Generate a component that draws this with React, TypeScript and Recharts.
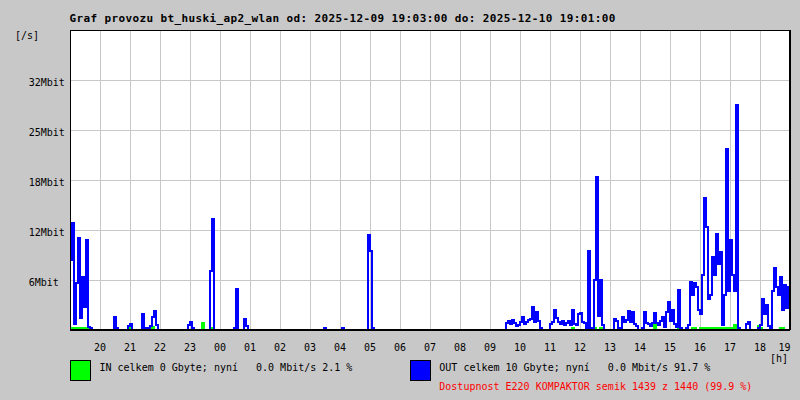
import React from 'react';
import { LineChart, Line, XAxis, YAxis, CartesianGrid, ReferenceLine } from 'recharts';

// Title and legend texts
const titleText = 'Graf provozu bt_huski_ap2_wlan od: 2025-12-09 19:03:00 do: 2025-12-10 19:01:00';
const inLegend = 'IN celkem 0 Gbyte; nyní   0.0 Mbit/s 2.1 %';
const outLegend = 'OUT celkem 10 Gbyte; nyní   0.0 Mbit/s 91.7 %';
const availText = 'Dostupnost E220 KOMPAKTOR semik 1439 z 1440 (99.9 %)';

// X axis: minutes since 19:00, one tick per hour
const hourTicks = [60, 120, 180, 240, 300, 360, 420, 480, 540, 600, 660, 720, 780, 840, 900, 960, 1020, 1080, 1140, 1200, 1260, 1320, 1380, 1440];
const hourLabels = ['20', '21', '22', '23', '00', '01', '02', '03', '04', '05', '06', '07', '08', '09', '10', '11', '12', '13', '14', '15', '16', '17', '18', '19'];

// Y axis (Mbit/s)
const yMax = 38.4;
const yTickValues = [6.4, 12.8, 19.2, 25.6, 32];
const yTickLabels = ['6Mbit', '12Mbit', '18Mbit', '25Mbit', '32Mbit'];

// Sample spacing in minutes
const sampleMinutes = 4;

// OUT traffic, Mbit/s, one row per hour (15 samples of 4 min)
const outMbit = [
  9.0, 13.7, 0.8, 6.0, 11.8, 1.5, 6.8, 3.0, 11.5, 0.4, 0.3, 0, 0, 0, 0,
  0, 0, 0, 0, 0, 0, 0, 1.7, 0.3, 0, 0, 0, 0, 0, 0.5,
  0.8, 0, 0, 0, 0, 0, 2.0, 0, 0.3, 0.3, 0.5, 1.7, 2.4, 0.6, 0,
  0, 0, 0, 0, 0, 0, 0, 0, 0, 0, 0, 0, 0, 0, 0.6,
  1.0, 0.3, 0, 0, 0, 0, 0, 0, 0, 0, 7.5, 14.2, 0, 0, 0,
  0, 0, 0, 0, 0, 0, 0, 0.3, 5.2, 0, 0, 0, 1.4, 0.5, 0,
  0, 0, 0, 0, 0, 0, 0, 0, 0, 0, 0, 0, 0, 0, 0,
  0, 0, 0, 0, 0, 0, 0, 0, 0, 0, 0, 0, 0, 0, 0,
  0, 0, 0, 0, 0, 0, 0, 0.2, 0, 0, 0, 0, 0, 0, 0,
  0, 0.2, 0, 0, 0, 0, 0, 0, 0, 0, 0, 0, 0, 0, 12.2,
  10.1, 0.3, 0, 0, 0, 0, 0, 0, 0, 0, 0, 0, 0, 0, 0,
  0, 0, 0, 0, 0, 0, 0, 0, 0, 0, 0, 0, 0, 0, 0,
  0, 0, 0, 0, 0, 0, 0, 0, 0, 0, 0, 0, 0, 0, 0,
  0, 0, 0, 0, 0, 0, 0, 0, 0, 0, 0, 0, 0, 0, 0,
  0, 0, 0, 0, 0, 0, 0, 0, 0.9, 1.2, 0.8, 1.3, 0.9, 0.5, 0.6,
  1.0, 1.7, 0.8, 1.0, 1.3, 1.4, 2.9, 1.0, 2.3, 1.1, 0.3, 0, 0, 0, 0,
  0.8, 1.0, 2.6, 1.5, 1.0, 0.8, 1.1, 0.6, 0.9, 1.1, 0.6, 2.6, 0.8, 0.7, 2.0,
  2.2, 1.0, 0.9, 0.3, 10.1, 0.3, 0.2, 6.4, 19.6, 1.8, 6.4, 0.6, 0, 0, 0,
  0, 0, 1.4, 1.2, 0.2, 0.3, 1.7, 1.0, 1.3, 2.4, 1.0, 2.3, 0.8, 0.5, 0,
  0, 0.3, 2.3, 0.9, 0.8, 0.5, 0.9, 2.2, 0.9, 0.7, 1.2, 1.7, 0.4, 2.3, 3.6,
  1.2, 2.6, 0.8, 0.4, 5.1, 0.2, 0, 0, 0.3, 0.6, 6.1, 4.5, 6.0, 5.5, 2.6,
  2.0, 7.0, 16.9, 13.2, 4.0, 4.5, 9.3, 7.0, 12.3, 8.5, 10.0, 0.6, 4.5, 23.2, 5.0,
  11.5, 7.0, 5.0, 28.8, 0.2, 0, 0, 0, 0.8, 1.0, 0, 0, 0, 0, 0.3,
  0.6, 4.0, 2.0, 3.2, 0.5, 0.3, 5.0, 7.9, 5.5, 4.5, 6.8, 2.5, 5.8, 2.8, 5.5,
];

// IN traffic, Mbit/s, one row per hour
const inMbit = [
  0.2, 0, 0.2, 0.2, 0, 0.2, 0.2, 0, 0.2, 0.2, 0, 0, 0, 0, 0,
  0, 0, 0, 0, 0, 0, 0, 0, 0, 0, 0, 0, 0, 0, 0,
  0.2, 0, 0, 0, 0, 0, 0.2, 0, 0, 0, 0, 0.4, 0, 0, 0,
  0, 0, 0, 0, 0, 0, 0, 0, 0, 0, 0, 0, 0, 0, 0,
  0, 0, 0, 0, 0, 0, 0.9, 0, 0, 0, 0, 0.2, 0, 0, 0,
  0, 0, 0, 0, 0, 0, 0, 0, 0.2, 0, 0, 0, 0, 0, 0,
  0, 0, 0, 0, 0, 0, 0, 0, 0, 0, 0, 0, 0, 0, 0,
  0, 0, 0, 0, 0, 0, 0, 0, 0, 0, 0, 0, 0, 0, 0,
  0, 0, 0, 0, 0, 0, 0, 0, 0, 0, 0, 0, 0, 0, 0,
  0, 0, 0, 0, 0, 0, 0, 0, 0, 0, 0, 0, 0, 0, 0,
  0, 0, 0, 0, 0, 0, 0, 0, 0, 0, 0, 0, 0, 0, 0,
  0, 0, 0, 0, 0, 0, 0, 0, 0, 0, 0, 0, 0, 0, 0,
  0, 0, 0, 0, 0, 0, 0, 0, 0, 0, 0, 0, 0, 0, 0,
  0, 0, 0, 0, 0, 0, 0, 0, 0, 0, 0, 0, 0, 0, 0,
  0, 0, 0, 0, 0, 0, 0, 0, 0, 0, 0, 0, 0, 0, 0,
  0, 0, 0, 0, 0, 0, 0, 0, 0, 0, 0, 0, 0, 0, 0,
  0, 0, 0, 0, 0, 0, 0, 0, 0, 0, 0, 0.3, 0, 0, 0,
  0, 0, 0, 0, 0, 0, 0, 0.3, 0, 0, 0.3, 0, 0, 0, 0,
  0, 0, 0, 0, 0, 0, 0, 0, 0, 0, 0, 0, 0, 0, 0,
  0, 0, 0, 0, 0, 0, 0, 0.6, 0, 0, 0, 0, 0, 0, 0,
  0, 0, 0, 0, 0.2, 0, 0, 0, 0, 0, 0, 0.2, 0.2, 0, 0,
  0.3, 0.2, 0, 0.3, 0.3, 0.2, 0.3, 0.3, 0, 0.3, 0.2, 0.3, 0.3, 0, 0.3,
  0.2, 0.3, 0.6, 0.3, 0, 0, 0, 0, 0, 0, 0, 0, 0, 0, 0.5,
  0.2, 0, 0, 0, 0, 0, 0, 0, 0, 0, 0.3, 0.2, 0, 0, 0,
];

const data = outMbit.map((v, i) => ({
  t: i * sampleMinutes + sampleMinutes / 2,
  out: v,
  in: inMbit[i],
}));

const FONT = '"DejaVu Sans Mono", monospace';

const XTick = (props: any) => {
  const { x, y, payload } = props;
  const idx = hourTicks.indexOf(payload.value);
  const last = idx === hourTicks.length - 1;
  return (
    <text
      x={last ? x + 0.5 : x}
      y={y + 21}
      textAnchor={last ? 'end' : 'middle'}
      fontFamily={FONT}
      fontSize={10}
      fill="#000"
    >
      {hourLabels[idx]}
    </text>
  );
};

const YTick = (props: any) => {
  const { y, payload } = props;
  const idx = yTickValues.indexOf(payload.value);
  return (
    <text x={28.7} y={y + 6} textAnchor="start" fontFamily={FONT} fontSize={10} fill="#000">
      {yTickLabels[idx]}
    </text>
  );
};

export default function App() {
  return (
    <div
      style={{
        position: 'absolute',
        left: 0,
        top: 0,
        width: 800,
        height: 400,
        background: '#c8c8c8',
        overflow: 'hidden',
      }}
    >
      <style>{`.crisp .recharts-line path, .crisp .recharts-reference-line line, .crisp .recharts-cartesian-grid line { shape-rendering: crispEdges; }`}</style>
      <div className="crisp" style={{ position: 'absolute', left: 0, top: 0 }}>
        <LineChart
          width={800}
          height={400}
          data={data}
          margin={{ top: 30, right: 10, bottom: 50, left: 0 }}
        >
          <CartesianGrid stroke="#c8c8c8" strokeWidth={1} fill="#ffffff" fillOpacity={1} />
          <XAxis
            dataKey="t"
            type="number"
            domain={[0, 1440]}
            ticks={hourTicks}
            interval={0}
            height={20}
            tickSize={0}
            tickMargin={0}
            tickLine={false}
            axisLine={false}
            tick={<XTick />}
            allowDataOverflow
          />
          <YAxis
            type="number"
            domain={[0, yMax]}
            ticks={yTickValues}
            interval={0}
            width={70}
            tickSize={0}
            tickMargin={0}
            tickLine={false}
            axisLine={false}
            tick={<YTick />}
            allowDataOverflow
          />
          <Line
            dataKey="in"
            type="step"
            stroke="#00ff00"
            strokeWidth={2}
            dot={false}
            activeDot={false}
            isAnimationActive={false}
          />
          <Line
            dataKey="out"
            type="step"
            stroke="#0000ff"
            strokeWidth={2}
            dot={false}
            activeDot={false}
            isAnimationActive={false}
          />
          <ReferenceLine y={0} stroke="#000" strokeWidth={2} />
          <ReferenceLine y={yMax} stroke="#000" strokeWidth={1} />
          <ReferenceLine x={0} stroke="#000" strokeWidth={1} />
          <ReferenceLine x={1440} stroke="#000" strokeWidth={2} />
        </LineChart>
      </div>
      <svg
        width={800}
        height={400}
        style={{ position: 'absolute', left: 0, top: 0, pointerEvents: 'none' }}
      >
        <text
          x={69.5}
          y={22}
          fontFamily={FONT}
          fontSize={11}
          fontWeight="bold"
          letterSpacing={0.38}
          fill="#000"
          style={{ whiteSpace: 'pre' }}
        >
          {titleText}
        </text>
        <text x={15} y={38.5} fontFamily={FONT} fontSize={10} fill="#000">
          [/s]
        </text>
        <text x={770} y={362} fontFamily={FONT} fontSize={10} fill="#000">
          [h]
        </text>
        <rect x={70.5} y={360.5} width={20} height={20} fill="#00ff00" stroke="#000" strokeWidth={1} />
        <text x={99.5} y={371} fontFamily={FONT} fontSize={10} fill="#000" style={{ whiteSpace: 'pre' }}>
          {inLegend}
        </text>
        <rect x={410.5} y={360.5} width={20} height={20} fill="#0000ff" stroke="#000" strokeWidth={1} />
        <text x={439.3} y={371} fontFamily={FONT} fontSize={10} fill="#000" style={{ whiteSpace: 'pre' }}>
          {outLegend}
        </text>
        <text x={439.3} y={390} fontFamily={FONT} fontSize={10} fill="#ff0000" style={{ whiteSpace: 'pre' }}>
          {availText}
        </text>
      </svg>
    </div>
  );
}
